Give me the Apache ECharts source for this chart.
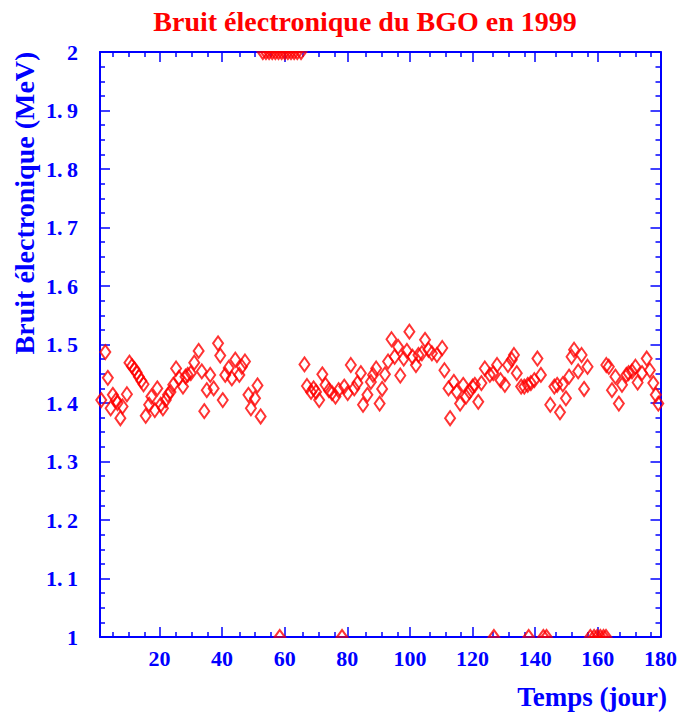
<!DOCTYPE html>
<html>
<head>
<meta charset="utf-8">
<script src="https://cdn.jsdelivr.net/npm/echarts@6/dist/echarts.min.js"></script>
<style>
  html, body { margin: 0; padding: 0; background: #fff; }
  #chart { width: 680px; height: 713px; }
</style>
</head>
<body>
<div id="chart"></div>
<script>
  // jours et bruit (MeV)
  const jours = [1.4, 2.7, 3.5, 4.4, 5.1, 6.1, 6.6, 7.5, 8.2, 9.6, 10.4, 11.2, 12.0, 12.7, 13.4, 14.2, 14.9, 15.6, 16.7, 17.4,
    18.5, 19.3, 20.4, 21.1, 22.0, 22.7, 23.5, 24.4, 25.3, 26.2, 27.5, 28.3, 29.0, 30.0, 31.1, 32.5, 33.5, 34.3, 35.1, 36.2,
    37.3, 38.7, 39.4, 40.2, 41.0, 42.1, 43.1, 44.2, 45.5, 46.3, 47.3, 48.4, 49.2, 50.5, 51.3, 52.3,
    66.3, 67.1, 68.4, 69.2, 70.0, 71.0, 72.0, 73.0, 74.1, 75.1, 76.2, 77.2, 79.0, 80.1, 81.1, 82.2, 83.2, 84.3, 85.0, 86.4,
    87.5, 88.2, 89.2, 90.3, 91.1, 92.0, 93.0, 94.1, 95.1, 96.2, 96.9, 98.0, 99.0, 99.8, 100.8, 101.9, 102.7, 103.8, 104.8, 105.9,
    107.0, 108.6, 110.3, 111.0, 112.3, 112.8, 114.0, 114.9, 116.0, 117.0, 117.9, 119.0, 120.0, 120.7, 121.8, 122.8, 123.9, 125.5, 126.6, 127.8,
    128.9, 130.3, 131.3, 132.5, 133.2, 134.1, 135.5, 136.5, 137.6, 138.6, 139.7, 140.7, 141.8, 144.8, 146.1, 147.0, 147.9, 148.8, 149.8, 150.8,
    151.6, 152.4, 153.7, 154.8, 155.6, 156.7, 162.7, 163.5, 164.5, 165.6, 166.7, 167.7, 169.1, 169.8, 170.9, 172.0, 172.7, 174.1, 175.6, 176.6,
    177.7, 178.5, 179.3]
  const bruit = [1.405, 1.487, 1.443, 1.391, 1.414, 1.405, 1.400, 1.374, 1.394, 1.415, 1.469, 1.463, 1.458, 1.452, 1.445, 1.438, 1.432, 1.378, 1.397, 1.411,
    1.388, 1.425, 1.397, 1.391, 1.405, 1.414, 1.419, 1.431, 1.459, 1.443, 1.428, 1.445, 1.448, 1.451, 1.469, 1.489, 1.454, 1.386, 1.422, 1.448,
    1.425, 1.502, 1.481, 1.405, 1.448, 1.460, 1.442, 1.474, 1.448, 1.462, 1.471, 1.414, 1.391, 1.408, 1.430, 1.377,
    1.466, 1.429, 1.419, 1.425, 1.419, 1.405, 1.449, 1.431, 1.422, 1.417, 1.411, 1.422, 1.428, 1.417, 1.465, 1.425, 1.434, 1.451, 1.397, 1.414,
    1.436, 1.448, 1.459, 1.399, 1.424, 1.449, 1.471, 1.509, 1.479, 1.496, 1.447, 1.476, 1.489, 1.522, 1.479, 1.465, 1.482, 1.485, 1.508, 1.491,
    1.485, 1.482, 1.494, 1.456, 1.425, 1.374, 1.436, 1.419, 1.399, 1.431, 1.411, 1.419, 1.428, 1.431, 1.402, 1.434, 1.459, 1.448, 1.451, 1.465,
    1.439, 1.431, 1.465, 1.474, 1.482, 1.451, 1.428, 1.428, 1.431, 1.434, 1.439, 1.476, 1.448, 1.397, 1.428, 1.431, 1.384, 1.432, 1.408, 1.445,
    1.479, 1.491, 1.454, 1.482, 1.424, 1.462, 1.465, 1.462, 1.422, 1.445, 1.399, 1.431, 1.448, 1.451, 1.454, 1.462, 1.435, 1.451, 1.476, 1.456,
    1.434, 1.414, 1.399]
  // points hors échelle (au-dessus de 2 MeV / au-dessous de 1 MeV)
  const joursHaut = [53.0, 54.0, 55.0, 56.0, 57.0, 58.0, 59.0, 60.0, 61.0, 62.0, 63.0, 64.0, 65.2]
  const joursBas = [58.4, 78.3, 126.8, 137.9, 142.6, 143.6, 157.6, 158.8, 159.8, 160.8, 161.8, 162.6]
  const ticksX = [20, 40, 60, 80, 100, 120, 140, 160, 180]
  const ticksXmin = [5, 10, 15, 25, 30, 35, 45, 50, 55, 65, 70, 75, 85, 90, 95, 105, 110, 115, 125, 130, 135, 145, 150, 155, 165, 170, 175]

  const X_MIN = 1, X_MAX = 180, Y_MIN = 1, Y_MAX = 2
  const bleu = '#0000ff'
  const rouge = '#ff0000'
  const police = '"Liberation Serif", "DejaVu Serif", serif'

  const chart = echarts.init(document.getElementById('chart'), null, { renderer: 'svg' })

  const grille = { left: 100, right: 13, top: 52, bottom: 76 }
  const labelStyle = { color: bleu, fontFamily: police, fontWeight: 'bold', fontSize: 22 }

  function axeX(pos, grid, majeur) {
    return {
      type: 'value', gridIndex: grid, position: pos, min: X_MIN, max: X_MAX,
      axisLine: { show: majeur, onZero: false, lineStyle: { color: bleu, width: 2 } },
      axisTick: { inside: true, length: majeur ? 10 : 5, customValues: majeur ? ticksX : ticksXmin,
        lineStyle: { color: bleu, width: 1.5 } },
      axisLabel: majeur && pos === 'bottom'
        ? Object.assign({ customValues: ticksX, margin: 10 }, labelStyle)
        : { show: false },
      splitLine: { show: false }
    }
  }
  function axeY(pos, grid, visible) {
    return {
      type: 'value', gridIndex: grid, position: pos, min: Y_MIN, max: Y_MAX, interval: 0.1, show: visible,
      axisLine: { show: true, onZero: false, lineStyle: { color: bleu, width: 2 } },
      axisTick: { inside: true, length: 10, lineStyle: { color: bleu, width: 1.5 } },
      minorTick: { show: true, splitNumber: 4, length: 5, lineStyle: { color: bleu, width: 1.5 } },
      axisLabel: pos === 'left'
        ? Object.assign({ margin: 22, formatter: v => String(v).replace('.', '.\u2009') }, labelStyle)
        : { show: false },
      splitLine: { show: false }
    }
  }

  const option = {
    animation: false,
    backgroundColor: '#fff',
    grid: [grille, grille],
    xAxis: [axeX('bottom', 0, true), axeX('top', 0, true), axeX('bottom', 1, false), axeX('top', 1, false)],
    yAxis: [axeY('left', 0, true), axeY('right', 0, true), axeY('left', 1, false)],
    graphic: [
      { type: 'text', x: 365, y: 21,
        style: { text: 'Bruit électronique du BGO en 1999', fill: rouge, font: 'bold 28px ' + police, align: 'center', verticalAlign: 'middle' } },
      { type: 'text', x: 24, y: 203, rotation: Math.PI / 2,
        style: { text: 'Bruit électronique (MeV)', fill: bleu, font: 'bold 28px ' + police, align: 'center', verticalAlign: 'middle' } },
      { type: 'text', x: 667, y: 697,
        style: { text: 'Temps (jour)', fill: bleu, font: 'bold 27px ' + police, align: 'right', verticalAlign: 'middle' } }
    ],
    series: [
      {
        type: 'scatter', xAxisIndex: 0, yAxisIndex: 0,
        data: jours.map((j, i) => [j, bruit[i]]),
        symbol: 'diamond', symbolSize: [10, 14],
        itemStyle: { color: 'rgba(0,0,0,0)', borderColor: rouge, borderWidth: 2 }
      },
      {
        type: 'scatter', xAxisIndex: 0, yAxisIndex: 0, clip: false,
        data: joursHaut.map(j => [j, Y_MAX]),
        symbol: 'triangle', symbolSize: [10, 7], symbolRotate: 180, symbolOffset: [0, 3.5],
        itemStyle: { color: 'rgba(0,0,0,0)', borderColor: rouge, borderWidth: 2 }
      },
      {
        type: 'scatter', xAxisIndex: 0, yAxisIndex: 0, clip: false,
        data: joursBas.map(j => [j, Y_MIN]),
        symbol: 'triangle', symbolSize: [10, 7], symbolOffset: [0, -3.5],
        itemStyle: { color: 'rgba(0,0,0,0)', borderColor: rouge, borderWidth: 2 }
      }
    ]
  }
  chart.setOption(option)
</script>
</body>
</html>
